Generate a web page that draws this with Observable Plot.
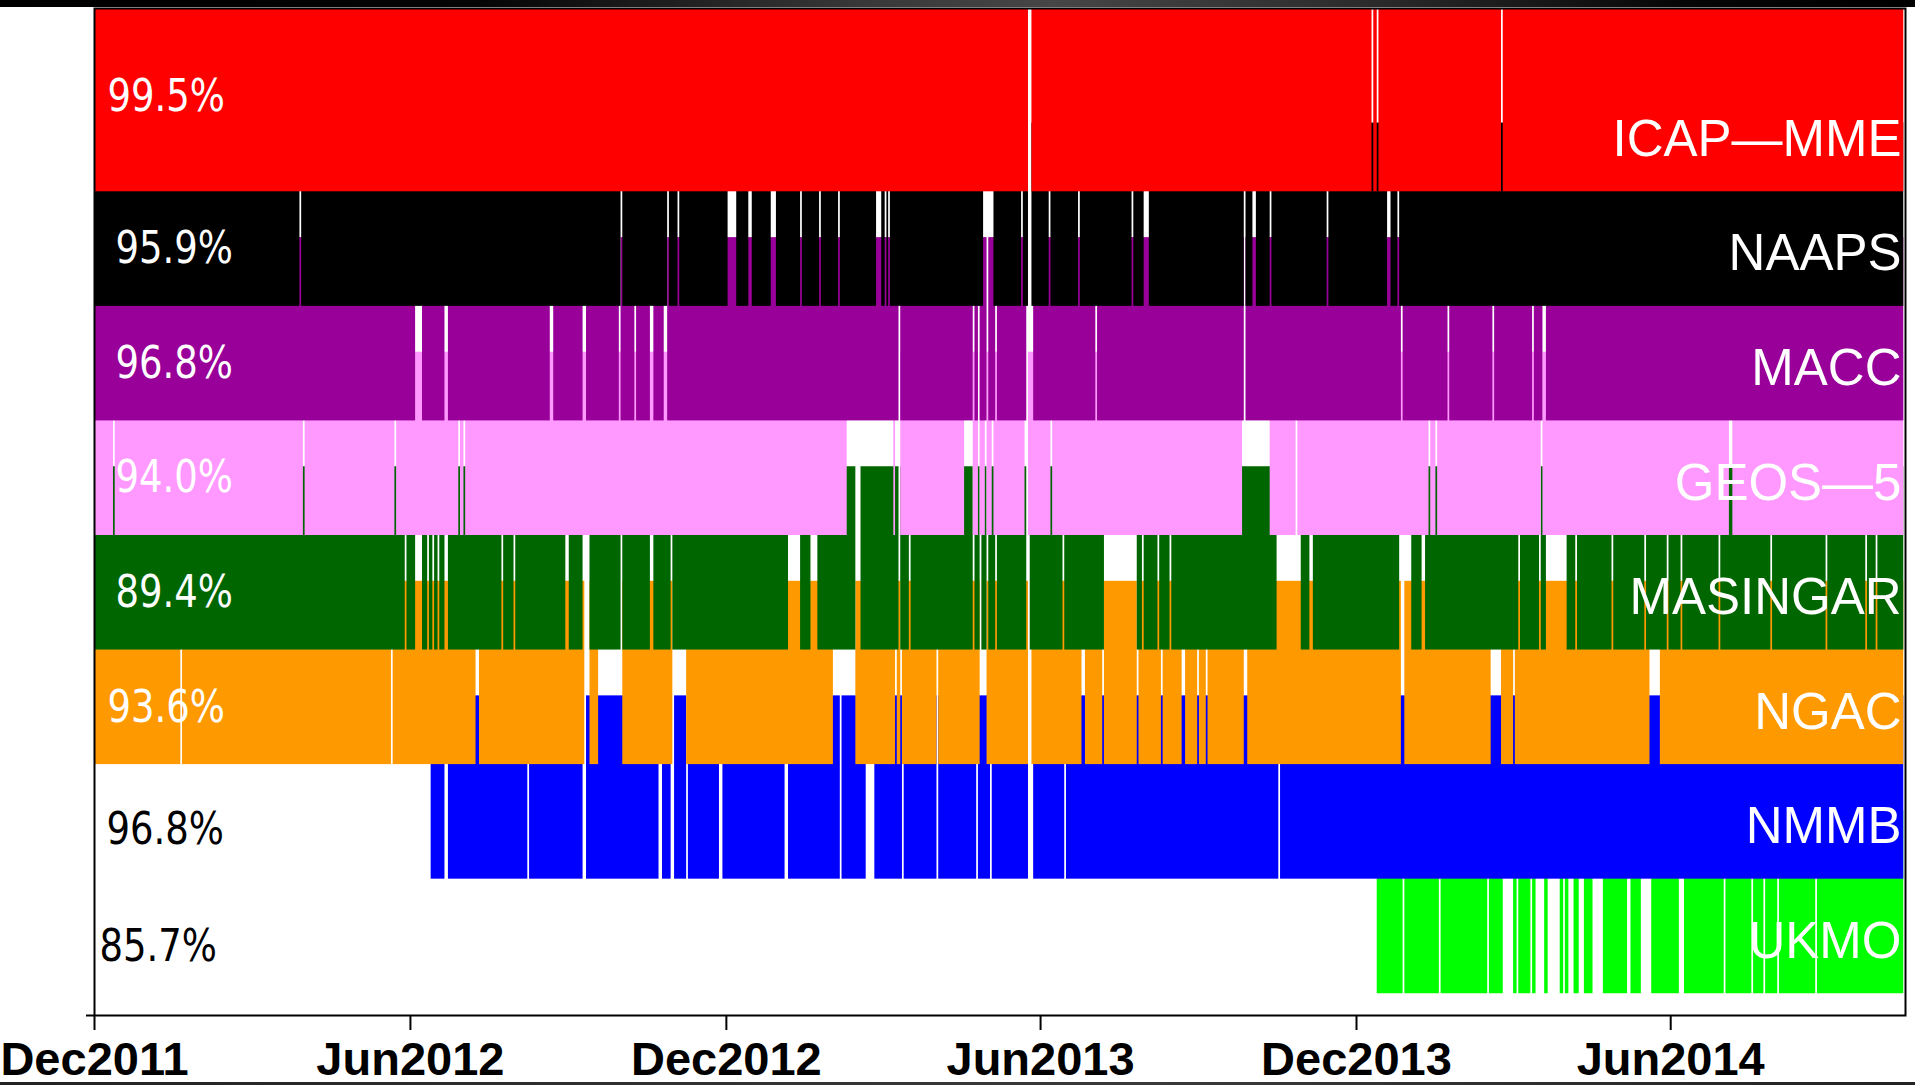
<!DOCTYPE html>
<html>
<head>
<meta charset="utf-8">
<script src="https://cdn.jsdelivr.net/npm/d3@7"></script>
<script src="https://cdn.jsdelivr.net/npm/@observablehq/plot@0.6"></script>
<style>
  html, body { margin: 0; padding: 0; background: #fff; overflow: hidden; }
  #wrap { position: relative; width: 1915px; height: 1085px; overflow: hidden; }
  #topbar { position: absolute; left: 0; top: 0; width: 1915px; height: 7px;
    background: linear-gradient(to right, #000 0%, #050505 25%, #383838 45%, #464646 55%, #2a2a2a 72%, #060606 88%, #000 100%); }
  #botbar { position: absolute; left: 0; top: 1082px; width: 1915px; height: 3px;
    background: linear-gradient(to right, #222 0%, #333 40%, #3a3a3a 60%, #222 100%); }
</style>
</head>
<body>
<div id="wrap"><div id="chart"></div><div id="topbar"></div><div id="botbar"></div></div>
<script>
// ---------------- data ----------------
const startDate = "2011-12-01";
const endDate = "2014-10-15";
const lastDay = 1048; // data end, in days from startDate (exclusive)
const models = ["ICAP\u2014MME", "NAAPS", "MACC", "GEOS\u20145", "MASINGAR", "NGAC", "NMMB", "UKMO"];
const colors = ["#ff0000", "#000000", "#990099", "#ff99ff", "#006600", "#ff9900", "#0000ff", "#00ff00"];
const availability = ["99.5%", "95.9%", "96.8%", "94.0%", "89.4%", "93.6%", "96.8%", "85.7%"];
const firstDay = [0, 0, 0, 0, 0, 0, 195, 743]; // first day with data, days from startDate
const tickDates = ["2011-12-01", "2012-06-01", "2012-12-01", "2013-06-01", "2013-12-01", "2014-06-01"];

// missing days: [first missing day (days from startDate), number of days]
const gapsICAP = [[541,2],[740,1],[743,1],[815,1]];
const gapsNAAPS = [[119,1],[305,1],[332,1],[338,1],[367,5],[379,2],[392,3],[409,1],[420,1],[431,1],[453,3],[458,1],[460,1],[515,6],[537,1],[541,2],[553,1],[570,1],[601,1],[608,3],[666,1],[671,2],[681,1],[714,1],[749,2],[755,1]];
const gapsMACC = [[186,4],[203,2],[264,2],[283,2],[304,1],[313,1],[322,2],[330,2],[466,1],[509,1],[512,1],[517,1],[522,1],[540,4],[580,1],[666,1],[757,1],[784,1],[810,1],[833,1],[839,2]];
const gapsGEOS = [[11,1],[121,1],[174,1],[211,1],[214,1],[436,27],[464,3],[504,5],[512,1],[516,1],[520,1],[539,2],[554,1],[665,16],[696,1],[773,1],[777,1],[838,1],[947,2]];
const gapsMASINGAR = [[180,1],[186,4],[193,1],[196,1],[199,1],[203,2],[236,1],[243,1],[273,2],[283,4],[305,1],[322,2],[334,1],[402,7],[415,4],[441,3],[466,1],[472,1],[509,1],[513,1],[517,1],[522,1],[540,2],[561,1],[585,19],[607,1],[616,1],[623,1],[685,14],[704,2],[756,7],[769,2],[825,1],[837,1],[841,12],[858,1],[879,1],[898,1],[911,1],[919,1],[941,1],[971,1],[1003,1],[1026,1],[1032,1]];
const gapsNGAC = [[50,1],[172,1],[221,2],[284,3],[292,14],[335,8],[428,13],[464,1],[467,1],[488,1],[513,4],[541,2],[572,2],[584,1],[604,1],[618,1],[630,2],[639,1],[644,1],[666,2],[757,2],[809,6],[822,1],[901,6]];
const gapsNMMB = [[203,2],[251,1],[283,2],[327,2],[334,2],[343,1],[362,2],[400,2],[432,1],[447,5],[468,1],[488,1],[511,1],[519,1],[541,3],[562,1],[686,1]];
const gapsUKMO = [[758,1],[779,1],[807,1],[816,6],[824,1],[832,1],[835,5],[842,7],[851,1],[854,3],[860,3],[868,6],[888,2],[896,6],[918,3],[944,1],[960,1],[967,1],[975,1],[997,1]];

// ---------------- build ----------------
const t0 = new Date(startDate + "T00:00:00Z");
const t1 = new Date(endDate + "T00:00:00Z");
const dayToDate = (d) => d3.utcDay.offset(t0, d);
const allGaps = [gapsICAP, gapsNAAPS, gapsMACC, gapsGEOS, gapsMASINGAR, gapsNGAC, gapsNMMB, gapsUKMO];

// row layout in band units (top row taller; each lower band tucks under the row above)
const rowTop = [], rowBot = [];
let acc = 0;
models.forEach((m, i) => { const h = i === 0 ? 1.6 : 1; rowTop.push(acc); rowBot.push(acc + h); acc += h; });
const underlap = 0.6;
const yMax = 8.79;

const bars = [];
for (let i = models.length - 1; i >= 0; i--) {
  const g = allGaps[i].slice().sort((a, b) => a[0] - b[0]);
  let cur = firstDay[i];
  const segs = [];
  for (const [s, len] of g) {
    if (s > cur) segs.push([cur, s]);
    cur = Math.max(cur, s + len);
  }
  if (cur < lastDay) segs.push([cur, lastDay]);
  for (const [a, b] of segs) {
    bars.push({
      model: models[i],
      x1: dayToDate(a), x2: dayToDate(b),
      y1: i === 0 ? rowTop[i] : rowTop[i] - underlap,
      y2: rowBot[i]
    });
  }
}

const labels = models.map((m, i) => ({
  model: m, pct: availability[i], idx: i,
  yPct: i === 0 ? rowTop[i] + 0.77 : (rowTop[i] + rowBot[i]) / 2,
  yName: rowBot[i] - 0.5
}));

const pctStyle = { frameAnchor: "left", y: "yPct", text: "pct", textAnchor: "start", fontSize: 37, fontFamily: "'DejaVu Sans', sans-serif", fontWeight: "normal" };

const chart = Plot.plot({
  width: 1915,
  height: 1085,
  marginLeft: 94,
  marginRight: 10,
  marginTop: 8,
  marginBottom: 70,
  style: { fontFamily: "'Liberation Sans', Arial, sans-serif", fontSize: "47px", fontWeight: "bold", color: "black", background: "white" },
  x: { type: "utc", domain: [t0, t1] },
  y: { domain: [0, yMax], reverse: true },
  color: { domain: models, range: colors },
  marks: [
    Plot.rect(bars, { x1: "x1", x2: "x2", y1: "y1", y2: "y2", fill: "model" }),
    Plot.text(labels.filter(d => d.idx === 0 || d.idx === 5), { ...pctStyle, dx: 13, fill: "white" }),
    Plot.text(labels.filter(d => d.idx >= 1 && d.idx <= 4), { ...pctStyle, dx: 21, fill: "white" }),
    Plot.text(labels.filter(d => d.idx === 6), { ...pctStyle, dx: 12, dy: 8, fill: "black" }),
    Plot.text(labels.filter(d => d.idx === 7), { ...pctStyle, dx: 5, dy: 10, fill: "black" }),
    Plot.text(labels, { frameAnchor: "right", y: "yName", text: "model", textAnchor: "end", dx: -4, dy: 5, fill: "white", fontSize: 51, fontFamily: "'Liberation Sans', Arial, sans-serif", fontWeight: "normal" }),
    Plot.frame({ stroke: "black", strokeWidth: 2 }),
    Plot.axisX({ ticks: tickDates.map(d => new Date(d + "T00:00:00Z")), tickFormat: d3.utcFormat("%b%Y"), tickSize: 15, tickPadding: 11, strokeWidth: 2, label: null }),
    Plot.axisY({ ticks: [yMax], tickFormat: () => "", tickSize: 8, strokeWidth: 2, label: null })
  ]
});
document.getElementById("chart").appendChild(chart);

// stretch the percentage glyphs vertically like the original raster
const groups = chart.querySelectorAll('g[aria-label="text"]');
groups.forEach((g, gi) => {
  if (gi > 3) return;
  g.querySelectorAll("text").forEach(t => {
    t.setAttribute("transform", (t.getAttribute("transform") || "") + " scale(1,1.2)");
  });
});
</script>
</body>
</html>
